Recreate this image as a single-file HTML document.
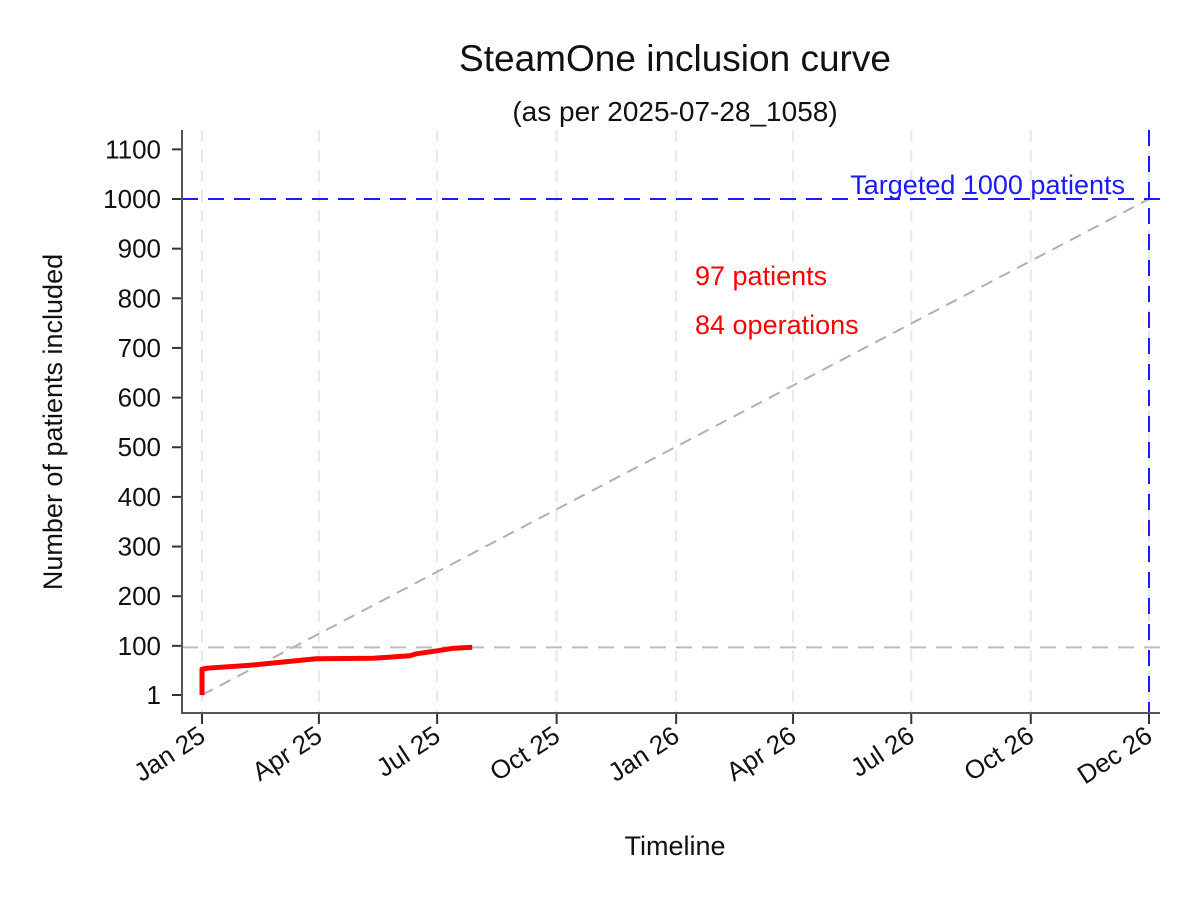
<!DOCTYPE html>
<html><head><meta charset="utf-8"><style>
html,body{margin:0;padding:0;background:#fff}
svg{display:block;font-family:"Liberation Sans",Arial,sans-serif}
</style></head><body>
<svg id="chart" width="1200" height="900" viewBox="0 0 1200 900">
<rect width="1200" height="900" fill="#fff"/>
<text x="675" y="71" font-size="37" text-anchor="middle" fill="#111">SteamOne inclusion curve</text>
<text x="675" y="121" font-size="28" text-anchor="middle" fill="#111">(as per 2025-07-28_1058)</text>
<text transform="translate(62,422) rotate(-90)" font-size="27" text-anchor="middle" fill="#111">Number of patients included</text>
<text x="675" y="855" font-size="27" text-anchor="middle" fill="#111">Timeline</text>
<g id="grid"></g><g id="refs"></g><g id="series"></g><g id="axes"></g>
<text x="695" y="285" font-size="27" fill="#ff0000">97 patients</text>
<text x="695" y="334" font-size="27" fill="#ff0000">84 operations</text>
<text x="1125" y="194" font-size="27" text-anchor="end" fill="#1a1aff">Targeted 1000 patients</text>
</svg>
<script>
const xTickDays=[0,90,181,273,365,455,546,638,729];
const xTickLabels=["Jan 25","Apr 25","Jul 25","Oct 25","Jan 26","Apr 26","Jul 26","Oct 26","Dec 26"];
const yTicks=[1,100,200,300,400,500,600,700,800,900,1000,1100];
const inclDays=[0,0,4,37,88,132,160,165,181,193,206,208];
const inclValues=[1,53,55,61,74,75,80,84,90,95,97,97];
const targetValue=1000;
const targetDay=729;
const currentValue=97;
const NS="http://www.w3.org/2000/svg";
const X=d=>202+d*(947/729);
const Y=v=>695-(v-1)*(496/999);
function mk(p,tag,a){const e=document.createElementNS(NS,tag);for(const k in a)e.setAttribute(k,a[k]);document.getElementById(p).appendChild(e);return e;}
xTickDays.forEach((d,i)=>{
  const g=mk('grid','line',{x1:X(d),x2:X(d),y1:130,y2:713,stroke:'#e8e8e8','stroke-width':2,'stroke-dasharray':'12 8'});
  
  
  const t=mk('axes','line',{x1:X(d),x2:X(d),y1:713,y2:724,stroke:'#333','stroke-width':2});
  
  
  const l=mk('axes','text',{transform:`translate(${X(d)+5},${740}) rotate(-33)`,'font-size':26,'text-anchor':'end',fill:'#111'});
  l.textContent=xTickLabels[i];
  
  
});
yTicks.forEach(v=>{
  const t=mk('axes','line',{x1:172,x2:182,y1:Y(v),y2:Y(v),stroke:'#333','stroke-width':2});
  
  
  const l=mk('axes','text',{x:161,y:Y(v)+9,'font-size':26,'text-anchor':'end',fill:'#111'});
  l.textContent=v;
  
  
});
const ax=mk('axes','path',{d:`M182 130 V713 H1160`,fill:'none',stroke:'#555','stroke-width':2});


const diag=mk('refs','line',{x1:X(0),y1:Y(1),x2:X(targetDay),y2:Y(targetValue),stroke:'#b0b0b0','stroke-width':2,'stroke-dasharray':'12 8'});


const cur=mk('refs','line',{x1:182,x2:1160,y1:Y(currentValue),y2:Y(currentValue),stroke:'#bdbdbd','stroke-width':2,'stroke-dasharray':'16 10'});


const th=mk('refs','line',{x1:182,x2:1160,y1:Y(targetValue),y2:Y(targetValue),stroke:'#1a1aff','stroke-width':2,'stroke-dasharray':'16 10'});


const tv=mk('refs','line',{x1:X(targetDay),x2:X(targetDay),y1:130,y2:713,stroke:'#1a1aff','stroke-width':2,'stroke-dasharray':'16 10'});


const pts=inclDays.map((d,i)=>`${X(d)},${Y(inclValues[i])}`).join(' ');
const s=mk('series','polyline',{points:pts,fill:'none',stroke:'#ff0000','stroke-width':5,'stroke-linejoin':'round'});


</script>
</body></html>
